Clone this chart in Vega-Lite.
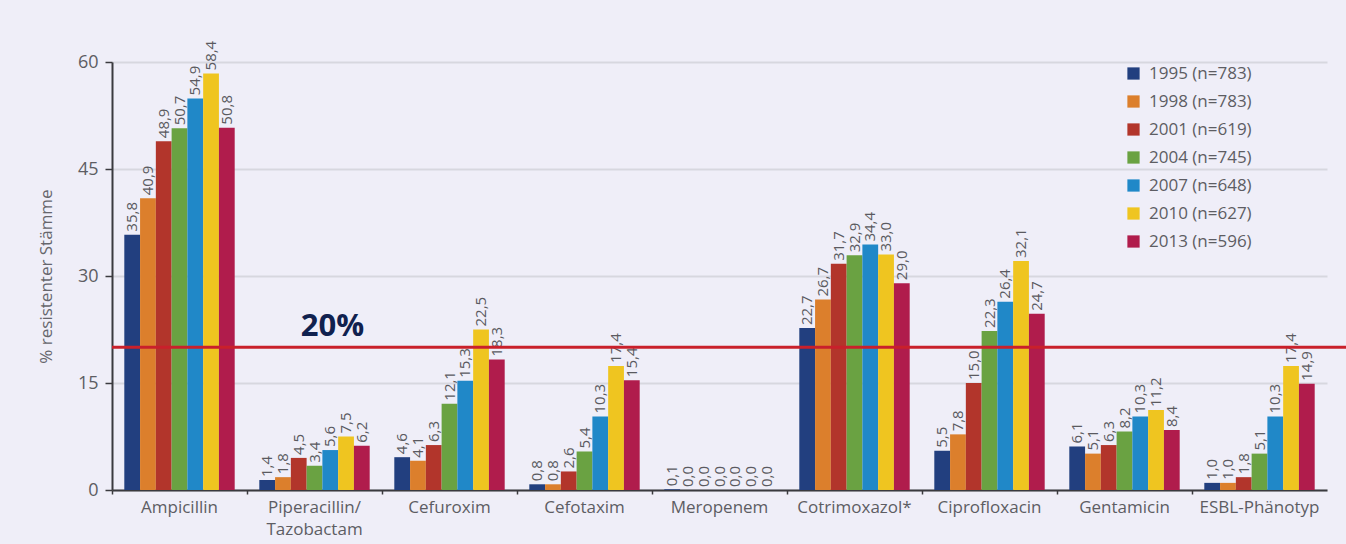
{
  "$schema": "https://vega.github.io/schema/vega-lite/v6.json",
  "width": 1234,
  "height": 428,
  "autosize": {"type": "none"},
  "padding": {"left": 112, "top": 62, "right": 0, "bottom": 54},
  "background": "#efeef8",
  "config": {
    "font": "Open Sans",
    "view": {"stroke": null},
    "locale": {
      "number": {"decimal": ",", "thousands": ".", "grouping": [3], "currency": ["", " €"]}
    }
  },
  "data": {
    "values": [
      {"drug": "Ampicillin", "series": "1995 (n=783)", "pct": 35.8},
      {"drug": "Ampicillin", "series": "1998 (n=783)", "pct": 40.9},
      {"drug": "Ampicillin", "series": "2001 (n=619)", "pct": 48.9},
      {"drug": "Ampicillin", "series": "2004 (n=745)", "pct": 50.7},
      {"drug": "Ampicillin", "series": "2007 (n=648)", "pct": 54.9},
      {"drug": "Ampicillin", "series": "2010 (n=627)", "pct": 58.4},
      {"drug": "Ampicillin", "series": "2013 (n=596)", "pct": 50.8},
      {"drug": "Piperacillin/Tazobactam", "series": "1995 (n=783)", "pct": 1.4},
      {"drug": "Piperacillin/Tazobactam", "series": "1998 (n=783)", "pct": 1.8},
      {"drug": "Piperacillin/Tazobactam", "series": "2001 (n=619)", "pct": 4.5},
      {"drug": "Piperacillin/Tazobactam", "series": "2004 (n=745)", "pct": 3.4},
      {"drug": "Piperacillin/Tazobactam", "series": "2007 (n=648)", "pct": 5.6},
      {"drug": "Piperacillin/Tazobactam", "series": "2010 (n=627)", "pct": 7.5},
      {"drug": "Piperacillin/Tazobactam", "series": "2013 (n=596)", "pct": 6.2},
      {"drug": "Cefuroxim", "series": "1995 (n=783)", "pct": 4.6},
      {"drug": "Cefuroxim", "series": "1998 (n=783)", "pct": 4.1},
      {"drug": "Cefuroxim", "series": "2001 (n=619)", "pct": 6.3},
      {"drug": "Cefuroxim", "series": "2004 (n=745)", "pct": 12.1},
      {"drug": "Cefuroxim", "series": "2007 (n=648)", "pct": 15.3},
      {"drug": "Cefuroxim", "series": "2010 (n=627)", "pct": 22.5},
      {"drug": "Cefuroxim", "series": "2013 (n=596)", "pct": 18.3},
      {"drug": "Cefotaxim", "series": "1995 (n=783)", "pct": 0.8},
      {"drug": "Cefotaxim", "series": "1998 (n=783)", "pct": 0.8},
      {"drug": "Cefotaxim", "series": "2001 (n=619)", "pct": 2.6},
      {"drug": "Cefotaxim", "series": "2004 (n=745)", "pct": 5.4},
      {"drug": "Cefotaxim", "series": "2007 (n=648)", "pct": 10.3},
      {"drug": "Cefotaxim", "series": "2010 (n=627)", "pct": 17.4},
      {"drug": "Cefotaxim", "series": "2013 (n=596)", "pct": 15.4},
      {"drug": "Meropenem", "series": "1995 (n=783)", "pct": 0.1},
      {"drug": "Meropenem", "series": "1998 (n=783)", "pct": 0.0},
      {"drug": "Meropenem", "series": "2001 (n=619)", "pct": 0.0},
      {"drug": "Meropenem", "series": "2004 (n=745)", "pct": 0.0},
      {"drug": "Meropenem", "series": "2007 (n=648)", "pct": 0.0},
      {"drug": "Meropenem", "series": "2010 (n=627)", "pct": 0.0},
      {"drug": "Meropenem", "series": "2013 (n=596)", "pct": 0.0},
      {"drug": "Cotrimoxazol*", "series": "1995 (n=783)", "pct": 22.7},
      {"drug": "Cotrimoxazol*", "series": "1998 (n=783)", "pct": 26.7},
      {"drug": "Cotrimoxazol*", "series": "2001 (n=619)", "pct": 31.7},
      {"drug": "Cotrimoxazol*", "series": "2004 (n=745)", "pct": 32.9},
      {"drug": "Cotrimoxazol*", "series": "2007 (n=648)", "pct": 34.4},
      {"drug": "Cotrimoxazol*", "series": "2010 (n=627)", "pct": 33.0},
      {"drug": "Cotrimoxazol*", "series": "2013 (n=596)", "pct": 29.0},
      {"drug": "Ciprofloxacin", "series": "1995 (n=783)", "pct": 5.5},
      {"drug": "Ciprofloxacin", "series": "1998 (n=783)", "pct": 7.8},
      {"drug": "Ciprofloxacin", "series": "2001 (n=619)", "pct": 15.0},
      {"drug": "Ciprofloxacin", "series": "2004 (n=745)", "pct": 22.3},
      {"drug": "Ciprofloxacin", "series": "2007 (n=648)", "pct": 26.4},
      {"drug": "Ciprofloxacin", "series": "2010 (n=627)", "pct": 32.1},
      {"drug": "Ciprofloxacin", "series": "2013 (n=596)", "pct": 24.7},
      {"drug": "Gentamicin", "series": "1995 (n=783)", "pct": 6.1},
      {"drug": "Gentamicin", "series": "1998 (n=783)", "pct": 5.1},
      {"drug": "Gentamicin", "series": "2001 (n=619)", "pct": 6.3},
      {"drug": "Gentamicin", "series": "2004 (n=745)", "pct": 8.2},
      {"drug": "Gentamicin", "series": "2007 (n=648)", "pct": 10.3},
      {"drug": "Gentamicin", "series": "2010 (n=627)", "pct": 11.2},
      {"drug": "Gentamicin", "series": "2013 (n=596)", "pct": 8.4},
      {"drug": "ESBL-Phänotyp", "series": "1995 (n=783)", "pct": 1.0},
      {"drug": "ESBL-Phänotyp", "series": "1998 (n=783)", "pct": 1.0},
      {"drug": "ESBL-Phänotyp", "series": "2001 (n=619)", "pct": 1.8},
      {"drug": "ESBL-Phänotyp", "series": "2004 (n=745)", "pct": 5.1},
      {"drug": "ESBL-Phänotyp", "series": "2007 (n=648)", "pct": 10.3},
      {"drug": "ESBL-Phänotyp", "series": "2010 (n=627)", "pct": 17.4},
      {"drug": "ESBL-Phänotyp", "series": "2013 (n=596)", "pct": 14.9}
    ]
  },
  "encoding": {
    "x": {
      "field": "drug",
      "type": "nominal",
      "scale": {
        "domain": ["Ampicillin", "Piperacillin/Tazobactam", "Cefuroxim", "Cefotaxim", "Meropenem", "Cotrimoxazol*", "Ciprofloxacin", "Gentamicin", "ESBL-Phänotyp"],
        "range": [0, 1215],
        "paddingInner": 0,
        "paddingOuter": 0
      },
      "axis": {
        "title": null,
        "bandPosition": 0,
        "labelAngle": 0,
        "labelOverlap": false,
        "labelFontSize": 17,
        "labelColor": "#5d5d63",
        "labelPadding": 5,
        "labelLineHeight": 22,
        "labelBaseline": "top",
        "labelExpr": "datum.value == 'Piperacillin/Tazobactam' ? ['Piperacillin/', 'Tazobactam'] : datum.value",
        "tickSize": 4,
        "tickColor": "#3a3a3f",
        "tickWidth": 1.5,
        "domainColor": "#3a3a3f",
        "domainWidth": 2,
        "grid": false
      }
    },
    "y": {
      "field": "pct",
      "type": "quantitative",
      "scale": {"domain": [0, 60]},
      "axis": {
        "values": [0, 15, 30, 45, 60],
        "title": "% resistenter Stämme",
        "titleFontSize": 17,
        "titleFontWeight": "normal",
        "titleColor": "#66666c",
        "titlePadding": 22,
        "labelFontSize": 18,
        "labelColor": "#5d5d63",
        "labelPadding": 7,
        "tickSize": 7,
        "tickWidth": 1.5,
        "tickColor": "#3a3a3f",
        "domainColor": "#3a3a3f",
        "domainWidth": 2,
        "gridColor": "#d7d7df",
        "gridWidth": 2
      }
    }
  },
  "layer": [
    {
      "mark": {"type": "bar"},
      "encoding": {
        "xOffset": {
          "field": "series",
          "type": "nominal",
          "sort": null,
          "scale": {"paddingInner": 0, "paddingOuter": 0.78}
        },
        "color": {
          "field": "series",
          "type": "nominal",
          "sort": null,
          "scale": {
            "domain": ["1995 (n=783)", "1998 (n=783)", "2001 (n=619)", "2004 (n=745)", "2007 (n=648)", "2010 (n=627)", "2013 (n=596)"],
            "range": ["#223f7f", "#dc7f2c", "#b2352b", "#6aa242", "#2088c8", "#efc520", "#b01c4c"]
          },
          "legend": {
            "title": null,
            "orient": "none",
            "legendX": 1013,
            "legendY": 3,
            "symbolType": "square",
            "symbolSize": 150,
            "symbolStrokeWidth": 0,
            "labelFontSize": 17,
            "labelColor": "#5d5d63",
            "labelOffset": 7,
            "rowPadding": 10
          }
        }
      }
    },
    {
      "mark": {
        "type": "text",
        "angle": 270,
        "align": "left",
        "baseline": "middle",
        "dx": 3,
        "fontSize": 15,
        "color": "#5a5a60"
      },
      "encoding": {
        "xOffset": {
          "field": "series",
          "type": "nominal",
          "sort": null,
          "scale": {"paddingInner": 0, "paddingOuter": 0.78}
        },
        "text": {"field": "pct", "type": "quantitative", "format": ".1f"}
      }
    },
    {
      "data": {"values": [{"drug": "Piperacillin/Tazobactam", "pct": 20, "label": "20%"}]},
      "layer": [
        {
          "mark": {"type": "rule", "color": "#c9202b", "strokeWidth": 3},
          "encoding": {"x": null}
        },
        {
          "mark": {
            "type": "text",
            "align": "center",
            "baseline": "alphabetic",
            "dx": 18,
            "dy": -11,
            "fontSize": 31,
            "fontWeight": "bold",
            "color": "#10214f"
          },
          "encoding": {"text": {"field": "label"}}
        }
      ]
    }
  ]
}
